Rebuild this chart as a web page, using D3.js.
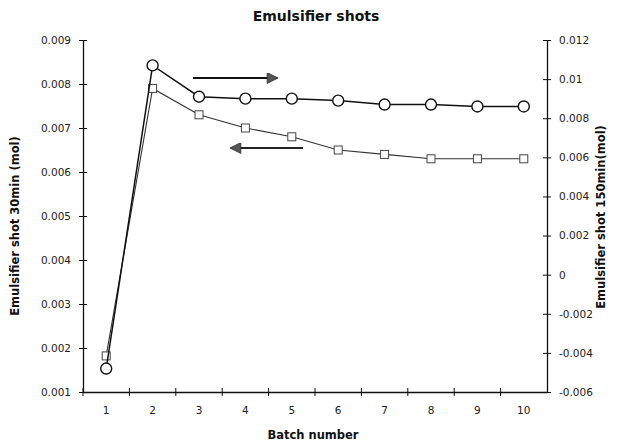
<!DOCTYPE html>
<html>
<head>
<meta charset="utf-8">
<script src="https://cdn.jsdelivr.net/npm/d3@7"></script>
<style>
  html, body { margin: 0; padding: 0; background: #fff; }
  svg { display: block; font-family: "DejaVu Sans", Arial, sans-serif; }
</style>
</head>
<body>
<svg id="chart" width="618" height="444"></svg>
<script>
// Batch numbers on the x axis
const batches = [1, 2, 3, 4, 5, 6, 7, 8, 9, 10];
// Emulsifier shot at 30 min (mol), left axis, square markers
const shot30 = [0.00182, 0.0079, 0.0073, 0.0070, 0.0068, 0.0065, 0.0064, 0.0063, 0.0063, 0.0063];
// Emulsifier shot at 150 min (mol), right axis, circle markers
const shot150 = [-0.0048, 0.0107, 0.0091, 0.0090, 0.0090, 0.0089, 0.0087, 0.0087, 0.0086, 0.0086];
// Tick labels
const leftTicks = [0.001, 0.002, 0.003, 0.004, 0.005, 0.006, 0.007, 0.008, 0.009];
const rightTicks = [-0.006, -0.004, -0.002, 0, 0.002, 0.004, 0.006, 0.008, 0.01, 0.012];

const svg = d3.select("#chart");
const m = { left: 83, right: 547, top: 40, bottom: 392 };

const x = d3.scaleBand().domain(batches).range([m.left, m.right]);
const yL = d3.scaleLinear().domain([0.001, 0.009]).range([m.bottom, m.top]);
const yR = d3.scaleLinear().domain([-0.006, 0.012]).range([m.bottom, m.top]);

const ink = "#111";
const font = "'DejaVu Sans', Arial, sans-serif";

// Title
svg.append("text").attr("x", 316).attr("y", 21).attr("text-anchor", "middle")
  .attr("font-size", 14).attr("font-weight", "bold").attr("fill", ink)
  .text("Emulsifier shots");

// Left axis
const gL = svg.append("g").attr("transform", `translate(${m.left},0)`)
  .call(d3.axisLeft(yL).tickValues(leftTicks).tickFormat(d3.format(".3f")).tickSizeInner(4).tickSizeOuter(0).tickPadding(8));
gL.selectAll(".tick line").attr("x2", 4).attr("x1", -4);

// Right axis
const gR = svg.append("g").attr("transform", `translate(${m.right},0)`)
  .call(d3.axisRight(yR).tickValues(rightTicks).tickFormat(d => d === 0 ? "0" : String(+d.toFixed(3))).tickSizeInner(4).tickSizeOuter(0).tickPadding(8));
gR.selectAll(".tick line").attr("x1", -4).attr("x2", 4);

// Bottom axis: ticks between categories
const gB = svg.append("g").attr("transform", `translate(0,${m.bottom})`)
  .call(d3.axisBottom(x).tickSize(0).tickPadding(15));
gB.selectAll(".tick").append("line")
  .attr("x1", -x.step() / 2).attr("x2", -x.step() / 2)
  .attr("y1", -4).attr("y2", 4).attr("stroke", ink);

[gL, gR, gB].forEach(g => {
  g.select(".domain").attr("stroke", ink).attr("stroke-width", 1.3);
  g.selectAll(".tick line").attr("stroke", ink);
  g.selectAll(".tick text").attr("font-size", 10.5)
    .attr("fill", "#222").attr("font-family", font);
});

// Axis titles
svg.append("text").attr("x", 313).attr("y", 439).attr("text-anchor", "middle")
  .attr("font-size", 11.5).attr("font-weight", "bold").attr("fill", ink)
  .text("Batch number");
svg.append("text").attr("transform", "translate(19,226) rotate(-90)")
  .attr("text-anchor", "middle").attr("font-size", 11.5).attr("font-weight", "bold").attr("fill", ink)
  .text("Emulsifier shot 30min (mol)");
svg.append("text").attr("transform", "translate(605,217) rotate(-90)")
  .attr("text-anchor", "middle").attr("font-size", 11.5).attr("font-weight", "bold").attr("fill", ink)
  .text("Emulsifier shot 150min(mol)");

const cx = d => x(d) + x.bandwidth() / 2;

// 30 min series (squares)
svg.append("path").datum(batches)
  .attr("fill", "none").attr("stroke", "#333").attr("stroke-width", 1.1)
  .attr("d", d3.line().x(cx).y((d, i) => yL(shot30[i])));
svg.append("g").selectAll("rect").data(batches).join("rect")
  .attr("x", d => cx(d) - 4).attr("y", (d, i) => yL(shot30[i]) - 4)
  .attr("width", 8).attr("height", 8)
  .attr("fill", "#fff").attr("stroke", "#444").attr("stroke-width", 1);

// 150 min series (circles)
svg.append("path").datum(batches)
  .attr("fill", "none").attr("stroke", ink).attr("stroke-width", 1.5)
  .attr("d", d3.line().x(cx).y((d, i) => yR(shot150[i])));
svg.append("g").selectAll("circle").data(batches).join("circle")
  .attr("cx", cx).attr("cy", (d, i) => yR(shot150[i])).attr("r", 5.5)
  .attr("fill", "#fff").attr("stroke", ink).attr("stroke-width", 1.4);

// Arrows showing which axis each series belongs to
const defs = svg.append("defs");
defs.append("marker").attr("id", "head").attr("viewBox", "0 0 10 10")
  .attr("refX", 9).attr("refY", 5).attr("markerWidth", 7).attr("markerHeight", 5.5)
  .attr("markerUnits", "strokeWidth").attr("orient", "auto-start-reverse")
  .append("path").attr("d", "M0,0 L10,5 L0,10 Z").attr("fill", "#555").attr("stroke", "#222").attr("stroke-width", 0.6);

svg.append("line").attr("x1", 193).attr("y1", 78).attr("x2", 277).attr("y2", 78)
  .attr("stroke", ink).attr("stroke-width", 2).attr("marker-end", "url(#head)");
svg.append("line").attr("x1", 303).attr("y1", 148).attr("x2", 231).attr("y2", 148)
  .attr("stroke", "#222").attr("stroke-width", 2).attr("marker-end", "url(#head)");
</script>
</body>
</html>
